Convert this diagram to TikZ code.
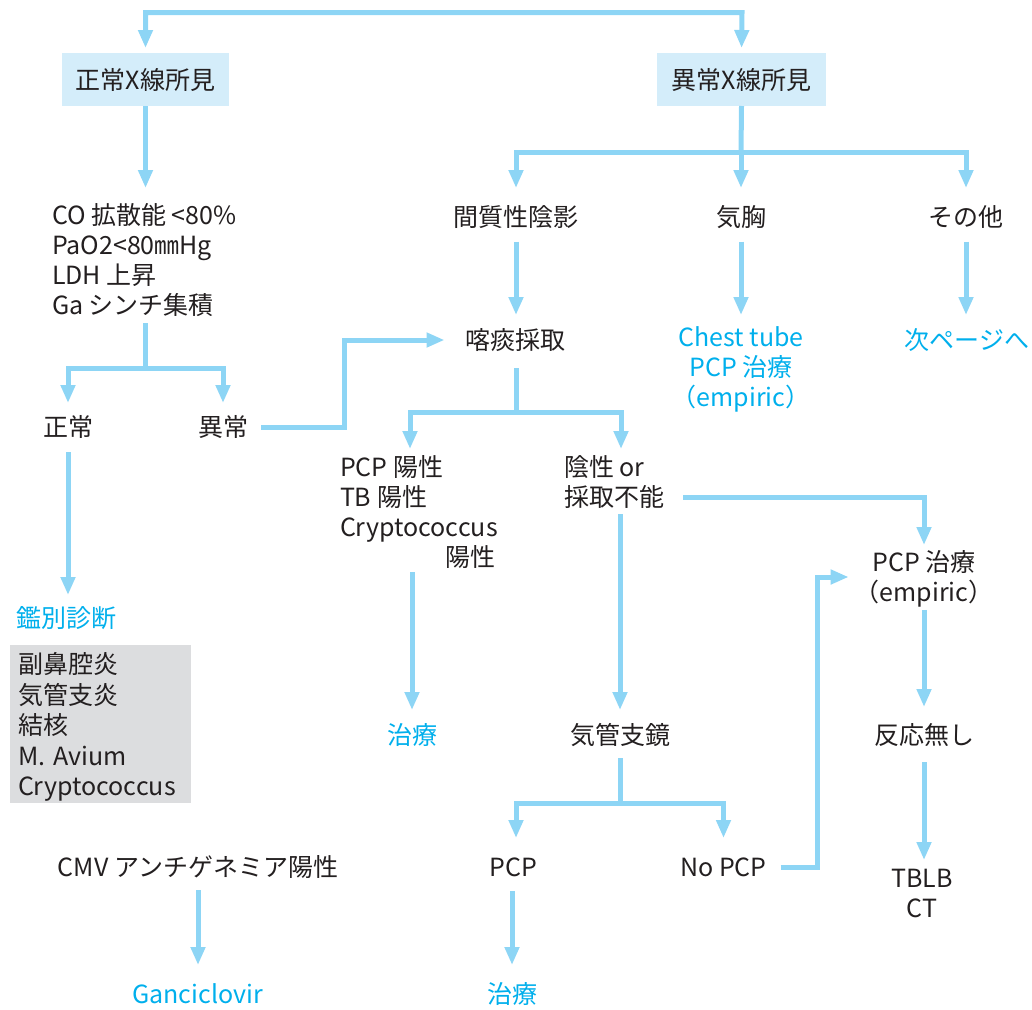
\documentclass[tikz,border=0pt]{standalone}
\usepackage{fontspec}
\setmainfont{Noto Sans CJK JP}
\usetikzlibrary{arrows.meta,calc}
\definecolor{lnc}{RGB}{141,213,245}
\definecolor{bluetxt}{RGB}{0,175,236}
\definecolor{boxc}{RGB}{212,237,250}
\definecolor{grayc}{RGB}{220,221,223}
\definecolor{txtc}{RGB}{35,31,32}
\tikzset{
  tip/.tip={Triangle[width=14pt,length=18pt]},
  ln/.style={draw=lnc,line width=5pt},
  arr/.style={ln,-tip},
  txt/.style={inner sep=0pt,outer sep=0pt,text=txtc,font=\fontsize{25}{30}\selectfont,text height=22pt,text depth=3pt},
  mtxt/.style={inner sep=0pt,outer sep=0pt,text=txtc,font=\fontsize{25}{30}\selectfont},
  blu/.style={txt,text=bluetxt},
  xbox/.style={txt,fill=boxc,minimum height=53pt},
}
\begin{document}
\begin{tikzpicture}[x=1pt,y=-1pt]
\useasboundingbox (0,0) rectangle (1032,1009);
% nodes
\node[xbox,minimum width=167pt] (box1) at (145.5,79.5) {正常X線所見};
\node[xbox,minimum width=169pt] (box2) at (741.5,79.5) {異常X線所見};
\node[mtxt,align=left,anchor=north west] (co) at (52,203) {CO 拡散能 <80\%\\PaO2<80㎜Hg\\LDH 上昇\\Ga シンチ集積};
\node[txt] (seijo) at (68,427) {正常};
\node[txt] (ijo) at (223,427) {異常};
\node[blu] (kanbetsu) at (66.5,618) {鑑別診断};
\node[mtxt,align=left,anchor=north west,fill=grayc,text width=165pt,inner xsep=8pt,minimum height=158pt,font=\fontsize{25}{30.5}\selectfont] (ddx) at (10,645) {\rule{0pt}{27pt}副鼻腔炎\\気管支炎\\結核\\M. Avium\\Cryptococcus};
\node[txt] (cmv) at (198,867) {CMV アンチゲネミア陽性};
\node[blu] (ganc) at (197.5,994) {Ganciclovir};
\node[txt] (kanshitsu) at (516,217) {間質性陰影};
\node[txt] (kikyo) at (741,217) {気胸};
\node[txt] (sonota) at (966,217) {その他};
\node[txt] (kakutan) at (515.5,340) {喀痰採取};
\node[mtxt,align=center,anchor=north,text=bluetxt] (chest) at (741,326.5) {Chest tube\\PCP 治療\\（empiric）};
\node[blu] (next) at (967,340) {次ページへ};
\node[mtxt,align=left,anchor=north west] (pos) at (340,455) {PCP 陽性\\TB 陽性\\Cryptococcus\\\hspace*{105pt}陽性};
\node[mtxt,align=left,anchor=north west] (neg) at (564,455) {陰性 or\\採取不能};
\node[blu] (chiryo1) at (412,735) {治療};
\node[txt] (kikanshi) at (620,735) {気管支鏡};
\node[mtxt,align=center,anchor=north] (pcpt) at (924,550.5) {PCP 治療\\（empiric）};
\node[txt] (hanno) at (924,735) {反応無し};
\node[mtxt,align=center,anchor=north] (tblb) at (922,869) {TBLB\\CT};
\node[txt] (pcp) at (513.5,867) {PCP};
\node[txt] (nopcp) at (723.5,867) {No PCP};
\node[blu] (chiryo2) at (512,994) {治療};
% junctions
\coordinate (tr) at (742,12.5);
\coordinate (f1) at (145,368);
\coordinate (b1) at (344,340);
\coordinate (f2) at (741,152);
\coordinate (f3) at (516,412);
\coordinate (c1) at (924,497);
\coordinate (f4) at (620,803);
\coordinate (c2) at (817,577);
% connectors
\draw[ln,tip-tip,shorten <=5pt,shorten >=5pt] (box1.north) |- (tr) -- (box2.north);
\draw[arr,shorten >=15pt] (box1.south) -- (box1.south |- co.north);
\draw[ln,shorten <=7pt] (co.south -| f1) -- (f1);
\draw[arr,shorten >=11.5pt] (f1) -| (seijo.north);
\draw[arr,shorten >=11.5pt] (f1) -| (ijo.north);
\draw[arr,shorten <=12.5pt,shorten >=10.5pt] (seijo.south) -- (seijo.south |- kanbetsu.north);
\draw[arr,shorten <=13pt,shorten >=21pt] (ijo.east) -| (b1) -- (kakutan.west);
\draw[ln] (box2.south) -- (f2);
\draw[arr,shorten >=16.5pt] (f2) -| (kanshitsu.north);
\draw[arr,shorten >=16.5pt] (f2) -- (kikyo.north);
\draw[arr,shorten >=16.5pt] (f2) -| (sonota.north);
\draw[arr,shorten <=12pt,shorten >=12.5pt] (kanshitsu.south) -- (kakutan.north -| kanshitsu.south);
\draw[arr,shorten <=12pt,shorten >=11.5pt] (kikyo.south) -- (chest.north);
\draw[arr,shorten <=12pt,shorten >=12.5pt] (sonota.south) -- (sonota.south |- next.north);
\draw[ln,shorten <=15.5pt] (kakutan.south -| f3) -- (f3);
\draw[arr,shorten >=6pt] (f3) -| ([xshift=70pt]pos.north west);
\draw[arr,shorten >=6pt] (f3) -| ([xshift=57pt]neg.north west);
\draw[arr,shorten <=4pt,shorten >=12.5pt] (chiryo1.north |- pos.south) -- (chiryo1.north);
\draw[arr,shorten <=6pt,shorten >=12.5pt] (kikanshi.north |- neg.south) -- (kikanshi.north);
\draw[arr,shorten <=19pt,shorten >=5.5pt] (neg.east |- c1) -- (c1) -- (pcpt.north);
\draw[arr,shorten <=2.5pt,shorten >=15.5pt] (pcpt.south) -- (hanno.north);
\draw[arr,shorten <=14.5pt,shorten >=9pt] (hanno.south) -- (hanno.south |- tblb.north);
\draw[ln,shorten <=10.5pt] (kikanshi.south) -- (f4);
\draw[arr,shorten >=16.5pt] (f4) -| ([xshift=2.5pt]pcp.north);
\draw[arr,shorten >=16.5pt] (f4) -| (nopcp.north);
\draw[arr,shorten <=14pt,shorten >=6pt] (nopcp.east) -| (c2) -- (pcpt.west |- c2);
\draw[arr,shorten <=11.5pt,shorten >=16.5pt] ([xshift=-1.5pt]pcp.south) -- ([xshift=-1.5pt]pcp.south |- chiryo2.north);
\draw[arr,shorten <=10.5pt,shorten >=16.5pt] (cmv.south) -- (cmv.south |- ganc.north);
\end{tikzpicture}
\end{document}
